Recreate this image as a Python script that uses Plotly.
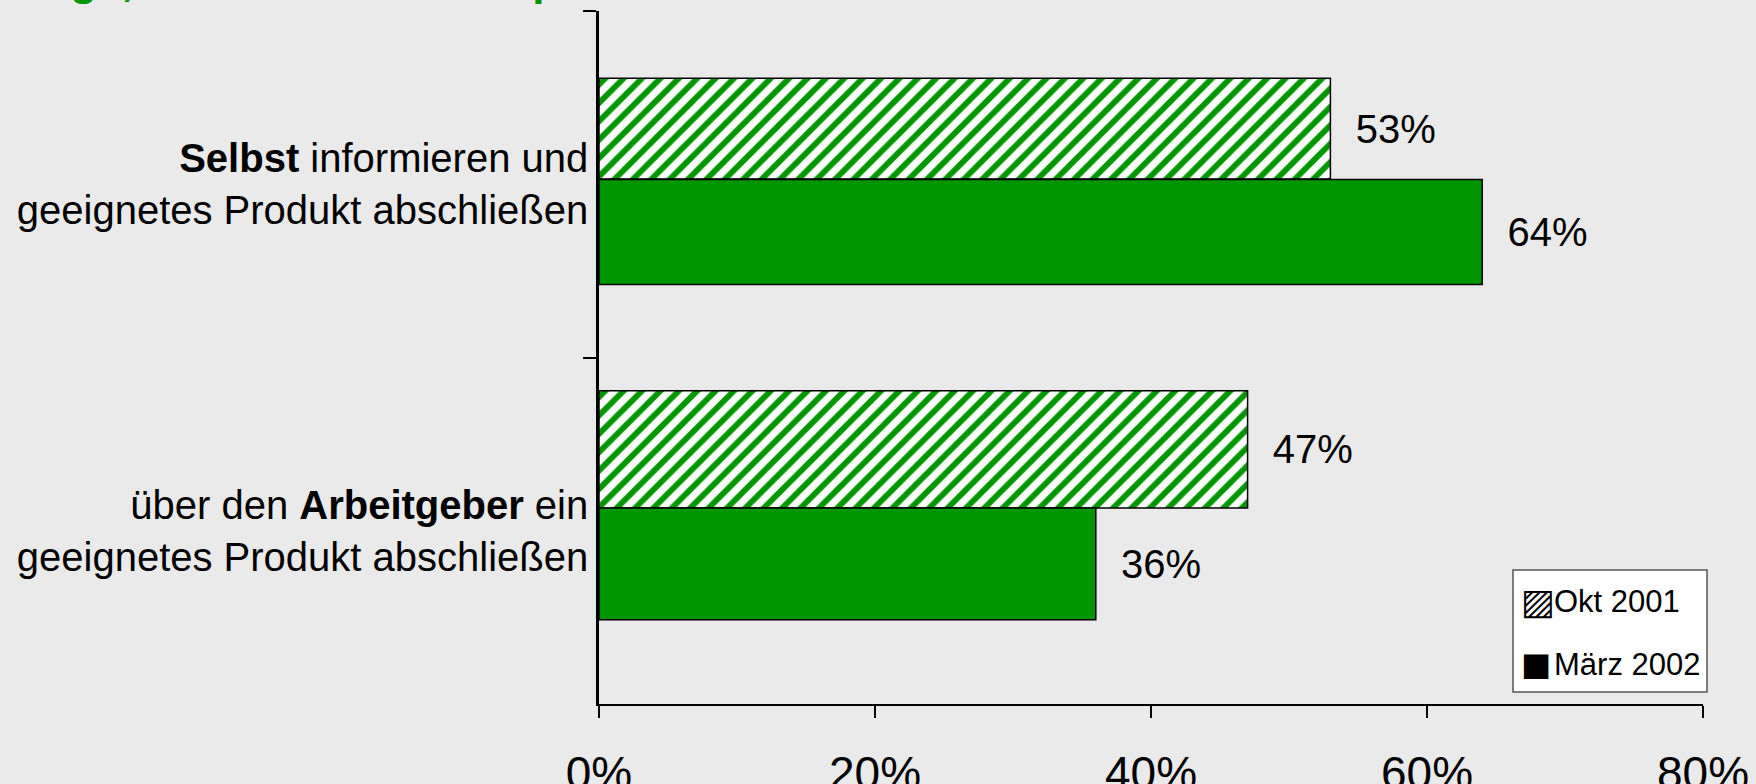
import plotly.graph_objects as go

# categories (top to bottom) and series values in percent
categories = [
    "<b>Selbst</b> informieren und<br>geeignetes Produkt abschließen",
    "über den <b>Arbeitgeber</b> ein<br>geeignetes Produkt abschließen",
]
series_names = ["Okt 2001", "März 2002"]
okt_2001 = [53, 47]
maerz_2002 = [64, 36]
x_ticks = [0, 20, 40, 60, 80]
title_text = "Wege, sich selbst für die private Rente zu entscheiden"

# bar placement inside each category slot (category units), as in the original
okt_offset, okt_width = [-0.306, -0.404], [0.291, 0.338]
maerz_offset, maerz_width = [-0.014, -0.066], [0.303, 0.323]

GREEN = "#009600"
BG = "#EAEAEA"
FONT = "Liberation Sans, Arial, DejaVu Sans, sans-serif"

W, H = 1756, 784
L, R, T, B = 599, 53, 11, 80


def px(x):
    return (x - L) / (W - L - R)


def py(y):
    return (H - B - y) / (H - T - B)


fig = go.Figure()

fig.add_trace(go.Bar(
    y=categories, x=okt_2001, orientation="h", name=series_names[0],
    offset=okt_offset, width=okt_width,
    marker=dict(color="white", line=dict(color="black", width=1.5),
                pattern=dict(shape="/", fgcolor=GREEN, bgcolor="white",
                             fgopacity=1, size=13, solidity=0.45)),
    text=["\u00a0\u00a0" + f"{v}%" for v in okt_2001],
    textposition="outside", constraintext="none", cliponaxis=False,
    textfont=dict(size=40, color="black", family=FONT),
    showlegend=False,
))
fig.add_trace(go.Bar(
    y=categories, x=maerz_2002, orientation="h", name=series_names[1],
    offset=maerz_offset, width=maerz_width,
    marker=dict(color=GREEN, line=dict(color="black", width=1.5)),
    text=["\u00a0\u00a0" + f"{v}%" for v in maerz_2002],
    textposition="outside", constraintext="none", cliponaxis=False,
    textfont=dict(size=40, color="black", family=FONT),
    showlegend=False,
))

# legend box drawn by hand (Excel style: black swatches)
fig.add_shape(type="rect", xref="paper", yref="paper",
              x0=px(1513), x1=px(1707), y0=py(692), y1=py(570),
              fillcolor="white", line=dict(color="#555555", width=1.5), layer="above")
for name, glyph, gsize, yc in zip(series_names, ["▨", "■"], [36, 32], [601, 664]):
    fig.add_annotation(xref="paper", yref="paper", x=px(1519), y=py(yc),
                       xanchor="left", yanchor="middle", showarrow=False,
                       text=glyph, font=dict(size=gsize, color="black", family="DejaVu Sans"))
    fig.add_annotation(xref="paper", yref="paper", x=px(1552), y=py(yc),
                       xanchor="left", yanchor="middle", showarrow=False,
                       text=name, font=dict(size=31, color="black", family=FONT))

# title, mostly above the visible page
fig.add_annotation(xref="paper", yref="paper", x=px(3), y=1.0, yshift=5,
                   xanchor="left", yanchor="bottom", showarrow=False,
                   text="<b>" + title_text + "</b>",
                   font=dict(size=44, color=GREEN, family=FONT))

fig.update_layout(
    width=W, height=H,
    margin=dict(l=L, r=R, t=T, b=B),
    paper_bgcolor=BG, plot_bgcolor=BG,
    barmode="overlay",
    font=dict(family=FONT, color="black"),
    xaxis=dict(
        range=[0, 80], tickvals=x_ticks, ticktext=[f"{v}%" for v in x_ticks],
        showgrid=False, zeroline=False, automargin=False,
        showline=True, linecolor="black", linewidth=2,
        ticks="outside", ticklen=12, tickwidth=1.5, tickcolor="black",
        ticklabelstandoff=16,
        tickfont=dict(size=46, family="Liberation Sans Narrow, Arial Narrow, " + FONT),
    ),
    yaxis=dict(
        autorange="reversed", type="category", tickson="boundaries",
        showgrid=False, zeroline=False, automargin=False,
        showline=True, linecolor="black", linewidth=2.5,
        ticks="outside", ticklen=13, tickwidth=1.5, tickcolor="black",
        tickfont=dict(size=40, family=FONT),
    ),
)

fig.write_html("out.html", config={"displayModeBar": False},
               post_script="document.body.style.margin='0';")
